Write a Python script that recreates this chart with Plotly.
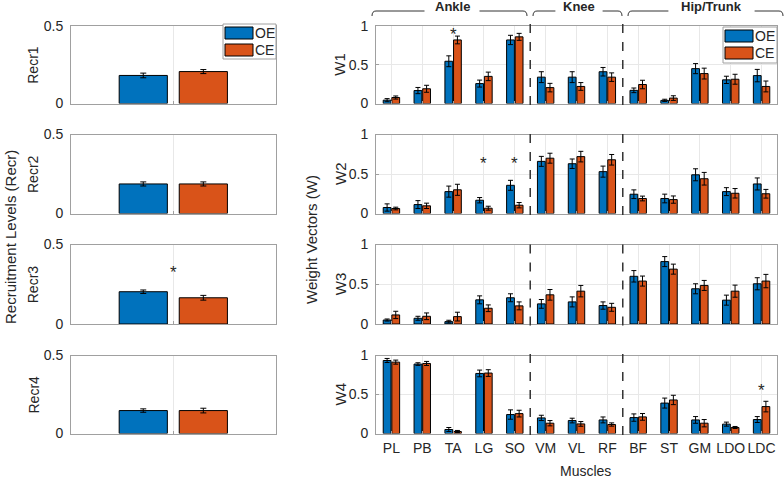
import plotly.graph_objects as go
from plotly.subplots import make_subplots

# ---- datos -------------------------------------------------------------------
SERIES = ["OE", "CE"]
COLORS = ["#0072BD", "#D95319"]
MUSCLES = ["PL", "PB", "TA", "LG", "SO", "VM", "VL", "RF", "BF", "ST", "GM", "LDO", "LDC"]
RECR_LABELS = ["Recr1", "Recr2", "Recr3", "Recr4"]
W_LABELS = ["W1", "W2", "W3", "W4"]
GROUPS = ["Ankle", "Knee", "Hip/Trunk"]

RECR_OE = [0.181, 0.187, 0.203, 0.147]
RECR_OE_ERR = [0.015, 0.013, 0.011, 0.011]
RECR_CE = [0.206, 0.187, 0.165, 0.147]
RECR_CE_ERR = [0.013, 0.013, 0.015, 0.015]

W1_OE = [0.043, 0.167, 0.545, 0.257, 0.82, 0.34, 0.34, 0.41, 0.17, 0.04, 0.45, 0.305, 0.36]
W1_OE_ERR = [0.02, 0.04, 0.07, 0.045, 0.06, 0.07, 0.07, 0.055, 0.03, 0.015, 0.065, 0.047, 0.08]
W1_CE = [0.077, 0.19, 0.82, 0.35, 0.86, 0.205, 0.22, 0.34, 0.245, 0.07, 0.386, 0.313, 0.22]
W1_CE_ERR = [0.02, 0.045, 0.05, 0.055, 0.045, 0.055, 0.05, 0.055, 0.055, 0.03, 0.07, 0.064, 0.07]

W2_OE = [0.076, 0.113, 0.277, 0.168, 0.357, 0.66, 0.63, 0.53, 0.244, 0.19, 0.49, 0.277, 0.374]
W2_OE_ERR = [0.046, 0.05, 0.07, 0.034, 0.063, 0.063, 0.06, 0.07, 0.055, 0.055, 0.076, 0.05, 0.076]
W2_CE = [0.063, 0.097, 0.30, 0.067, 0.105, 0.70, 0.72, 0.68, 0.19, 0.176, 0.44, 0.256, 0.25]
W2_CE_ERR = [0.017, 0.034, 0.07, 0.025, 0.034, 0.063, 0.067, 0.067, 0.03, 0.046, 0.08, 0.06, 0.055]

W3_OE = [0.05, 0.072, 0.03, 0.304, 0.33, 0.253, 0.278, 0.232, 0.60, 0.785, 0.443, 0.30, 0.506]
W3_OE_ERR = [0.013, 0.025, 0.017, 0.05, 0.05, 0.055, 0.063, 0.046, 0.072, 0.063, 0.063, 0.063, 0.076]
W3_CE = [0.114, 0.097, 0.093, 0.198, 0.228, 0.367, 0.413, 0.21, 0.54, 0.69, 0.485, 0.413, 0.54]
W3_CE_ERR = [0.046, 0.042, 0.055, 0.042, 0.05, 0.067, 0.072, 0.05, 0.063, 0.063, 0.063, 0.076, 0.084]

W4_OE = [0.936, 0.89, 0.051, 0.77, 0.243, 0.20, 0.166, 0.174, 0.204, 0.39, 0.174, 0.12, 0.179]
W4_OE_ERR = [0.026, 0.017, 0.026, 0.043, 0.06, 0.034, 0.03, 0.038, 0.047, 0.064, 0.043, 0.026, 0.038]
W4_CE = [0.915, 0.898, 0.026, 0.775, 0.255, 0.132, 0.123, 0.115, 0.213, 0.43, 0.132, 0.077, 0.345]
W4_CE_ERR = [0.026, 0.026, 0.013, 0.043, 0.043, 0.034, 0.03, 0.021, 0.043, 0.06, 0.047, 0.013, 0.068]

# asteriscos: (fila, músculo, y)
STARS_W = [(0, "TA", 0.935), (1, "LG", 0.67), (1, "SO", 0.67), (3, "LDC", 0.59)]
STARS_RECR = [(2, 0.34)]

W_OE = [W1_OE, W2_OE, W3_OE, W4_OE]
W_OE_ERR = [W1_OE_ERR, W2_OE_ERR, W3_OE_ERR, W4_OE_ERR]
W_CE = [W1_CE, W2_CE, W3_CE, W4_CE]
W_CE_ERR = [W1_CE_ERR, W2_CE_ERR, W3_CE_ERR, W4_CE_ERR]

# ---- geometría (pixeles de la figura 784x478) --------------------------------
FW, FH = 784, 478
def PX(x): return x / FW
def PY(y): return 1 - y / FH

ROWS = [(26, 103.5), (134.5, 213.5), (244.5, 324), (355.5, 433.5)]
LEFT_X = [PX(71), PX(276)]
RIGHT_X = [PX(376), PX(777)]
TXT = "#262626"
LINE = "#a0a0a0"
FONT = "Arial, Liberation Sans, sans-serif"

fig = make_subplots(rows=4, cols=2)

for r in range(4):
    # izquierda: niveles de reclutamiento
    for s, (vals, errs, off) in enumerate([(RECR_OE, RECR_OE_ERR, -0.265), (RECR_CE, RECR_CE_ERR, 0.028)]):
        fig.add_trace(go.Bar(
            x=[1], y=[vals[r]], width=0.235, offset=off,
            marker=dict(color=COLORS[s], line=dict(color="black", width=1)),
            error_y=dict(type="data", array=[errs[r]], color="black", thickness=1, width=3),
            showlegend=False, name=SERIES[s],
        ), row=r + 1, col=1)
    # derecha: vectores de pesos
    for s, (vals, errs) in enumerate([(W_OE[r], W_OE_ERR[r]), (W_CE[r], W_CE_ERR[r])]):
        fig.add_trace(go.Bar(
            x=MUSCLES, y=vals,
            marker=dict(color=COLORS[s], line=dict(color="black", width=1)),
            error_y=dict(type="data", array=errs, color="black", thickness=1, width=2.5),
            showlegend=False, name=SERIES[s],
        ), row=r + 1, col=2)

axis_common = dict(showline=True, mirror=True, linecolor=LINE, linewidth=1,
                   gridcolor="#e8e8e8", zeroline=False, ticks="inside", ticklen=3,
                   tickcolor=LINE, automargin=False,
                   tickfont=dict(family=FONT, size=14, color=TXT))

for r in range(4):
    y0, y1 = ROWS[r]
    nl, nr = 2 * r + 1, 2 * r + 2
    sl = "" if nl == 1 else str(nl)
    sr = str(nr)
    fig.layout["xaxis" + sl].update(domain=LEFT_X, range=[0.5, 1.5], tickvals=[1],
                                    showticklabels=False, **axis_common)
    fig.layout["yaxis" + sl].update(domain=[PY(y1), PY(y0)], range=[0, 0.5],
                                    tickvals=[0, 0.5], ticktext=["0", "0.5"],
                                    ticklabelstandoff=4, **axis_common)
    fig.layout["xaxis" + sr].update(domain=RIGHT_X, type="category", range=[-0.5, 12.5],
                                    showticklabels=(r == 3), ticklabelstandoff=2, **axis_common)
    fig.layout["yaxis" + sr].update(domain=[PY(y1), PY(y0)], range=[0, 1],
                                    tickvals=[0, 0.5, 1], ticktext=["0", "0.5", "1"],
                                    ticklabelstandoff=4, **axis_common)

shapes = []
annotations = []

def label(text, x, y, size=14, angle=0, xanchor="center"):
    annotations.append(dict(text=text, x=x, y=y, xref="paper", yref="paper",
                            xanchor=xanchor, yanchor="middle", textangle=angle,
                            showarrow=False, font=dict(family=FONT, size=size, color=TXT)))

# líneas discontinuas entre grupos musculares
for r in range(4):
    sr = str(2 * r + 2)
    for xb in [4.5, 7.5]:
        shapes.append(dict(type="line", xref="x" + sr, yref="y" + sr + " domain",
                           x0=xb, x1=xb, y0=-0.02, y1=1.03,
                           line=dict(color="#333333", width=1.5, dash="dash")))

# etiquetas de fila
for r in range(4):
    yc = PY((ROWS[r][0] + ROWS[r][1]) / 2)
    label(RECR_LABELS[r], PX(33), yc, 14, -90)
    label(W_LABELS[r], PX(340), yc, 15, -90)

label("Recruitment Levels (Recr)", PX(10), PY(237), 15, -90)
label("Weight Vectors (W)", PX(311), PY(240), 15, -90)
label("Muscles", PX(585), PY(471), 14)

# asteriscos
for r, m, yv in STARS_W:
    sr = str(2 * r + 2)
    annotations.append(dict(text="*", x=m, y=yv, xref="x" + sr, yref="y" + sr,
                            xanchor="center", yanchor="middle", showarrow=False, yshift=-3,
                            font=dict(family=FONT, size=17, color=TXT)))
for r, yv in STARS_RECR:
    sl = "" if r == 0 else str(2 * r + 1)
    annotations.append(dict(text="*", x=1, y=yv, xref="x" + sl, yref="y" + sl,
                            xanchor="center", yanchor="middle", showarrow=False, yshift=-3,
                            font=dict(family=FONT, size=17, color=TXT)))

# corchetes superiores
BRACKETS = [(372, 527, 452), (533, 622, 579), (628, 783, 711.5)]
for (xa, xb, xc), lab in zip(BRACKETS, GROUPS):
    half = 3.9 * len(lab) + 8
    yb, yh = PY(11), PY(16)
    c = 4
    path_l = f"M {PX(xa)},{yh} Q {PX(xa)},{yb} {PX(xa + c)},{yb} L {PX(xc - half)},{yb}"
    path_r = f"M {PX(xc + half)},{yb} L {PX(xb - c)},{yb} Q {PX(xb)},{yb} {PX(xb)},{yh}"
    for p in (path_l, path_r):
        shapes.append(dict(type="path", path=p, xref="paper", yref="paper",
                           line=dict(color="#333333", width=1)))
    label(f"<b>{lab}</b>", PX(xc), PY(7), 13)

# leyendas dibujadas
def add_legend(x0, y0, w, h):
    shapes.append(dict(type="rect", xref="paper", yref="paper",
                       x0=PX(x0), x1=PX(x0 + w), y0=PY(y0 + h), y1=PY(y0),
                       line=dict(color=LINE, width=1), fillcolor="white"))
    for i, (name, col) in enumerate(zip(SERIES, COLORS)):
        ya = y0 + 3 + i * 17
        shapes.append(dict(type="rect", xref="paper", yref="paper",
                           x0=PX(x0 + 2), x1=PX(x0 + 30), y0=PY(ya + 12), y1=PY(ya),
                           line=dict(color="black", width=1), fillcolor=col))
        label(name, PX(x0 + 30), PY(ya + 6), 14, 0, "left")

add_legend(223, 24, 53, 35)
add_legend(723, 27, 54, 36)

fig.update_layout(
    width=FW, height=FH,
    margin=dict(l=0, r=0, t=0, b=0, autoexpand=False),
    paper_bgcolor="white", plot_bgcolor="white",
    barmode="group", bargap=0.44, bargroupgap=0.1,
    font=dict(family=FONT, color=TXT),
    shapes=shapes, annotations=annotations,
    showlegend=False,
)

fig.write_html("out.html", config={"displayModeBar": False},
               post_script="document.body.style.margin='0';")
